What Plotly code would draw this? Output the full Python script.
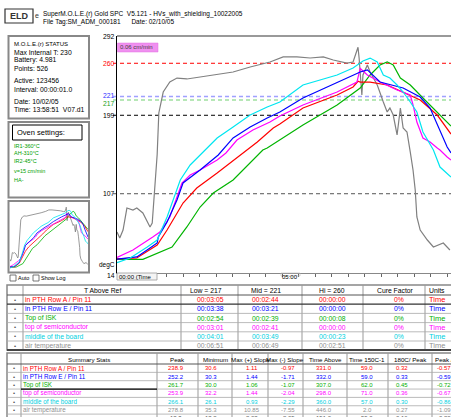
import plotly.graph_objects as go

W, H = 451, 417
FONT = "Liberation Sans, Arial, sans-serif"

# ---------------- data ----------------
series_names = ["in PTH Row A / Pin 11", "in PTH Row E / Pin 11", "Top of ISK",
                "top of semiconductor", "middle of the board", "air temperature"]
series_colors = ["#ff0000", "#0000ff", "#00b400", "#ff00ff", "#00e6f0", "#808080"]
table_colors = ["#ff0000", "#0000ff", "#00b000", "#ff00ff", "#00d0e0", "#909090"]

# time in seconds, temperature in degC
red_t = [0, 36, 73, 91, 120, 145, 182, 224, 255, 284, 296, 338, 400, 429, 438, 442, 460, 491, 520, 551, 582, 605, 607]
red_T = [30.6, 31.6, 46.8, 64.4, 96.1, 113.7, 131.3, 152.4, 167.7, 184.1, 188.8, 207.5, 222.8, 232.2, 238.9, 238.0, 238.0, 234.5, 226.3, 216.9, 199.3, 179.4, 177.0]

blue_t = [0, 36, 60, 73, 75, 91, 109, 120, 151, 184, 211, 242, 273, 296, 338, 400, 442, 455, 478, 520, 551, 569, 582, 593, 600, 607]
blue_T = [30.3, 32.8, 43.3, 49.2, 56.2, 73.8, 99.6, 119.6, 134.8, 152.4, 172.4, 185.3, 195.8, 202.9, 219.3, 238.0, 249.8, 252.2, 238.0, 231.0, 220.4, 207.5, 187.6, 172.4, 161.8, 154.8]

green_t = [0, 47, 100, 127, 151, 175, 211, 255, 265, 273, 296, 338, 400, 442, 460, 478, 491, 502, 515, 533, 556, 582, 593, 607]
green_T = [30.0, 30.0, 44.5, 68.0, 91.4, 107.8, 123.1, 152.4, 158.3, 160.6, 170.0, 187.6, 211.1, 231.0, 246.3, 258.0, 261.7, 258.0, 242.7, 234.5, 219.3, 202.9, 195.8, 186.4]

magenta_t = [0, 29, 65, 78, 96, 118, 133, 151, 182, 198, 218, 247, 278, 296, 338, 400, 436, 442, 455, 478, 509, 533, 538, 545, 556, 569, 582, 587, 600, 607]
magenta_T = [32.2, 41.0, 56.2, 62.1, 79.7, 119.6, 128.9, 134.8, 146.5, 154.8, 170.0, 181.7, 191.1, 198.2, 211.1, 226.3, 238.0, 253.9, 246.3, 238.0, 228.7, 222.8, 211.1, 191.1, 172.4, 167.7, 160.6, 158.3, 150.1, 146.5]

cyan_t = [0, 24, 55, 73, 91, 115, 133, 151, 182, 211, 242, 273, 296, 338, 400, 429, 447, 460, 473, 484, 496, 509, 520, 533, 545, 556, 569, 575, 587, 600, 607]
cyan_T = [26.1, 31.6, 44.5, 52.7, 79.7, 123.1, 140.7, 152.4, 172.4, 185.3, 199.3, 208.7, 214.6, 234.5, 246.3, 254.5, 262.7, 266.1, 261.5, 246.3, 242.7, 234.5, 226.3, 214.6, 202.9, 179.4, 164.1, 158.3, 138.3, 131.3, 126.6]

air_t = [0, 5, 11, 18, 29, 36, 47, 60, 64, 69, 73, 76, 84, 96, 109, 127, 151, 211, 242, 278,
         302, 327, 351, 375, 393, 418, 429, 435, 438, 440, 444, 445, 447, 455, 460, 473, 484, 491, 496, 502,
         509, 515, 520, 527, 533, 538, 542, 545, 551, 564, 575, 593, 605]
air_T = [62.1, 55.1, 64.4, 90.2, 87.9, 90.2, 84.4, 68.0, 72.6, 119.6, 153.0, 201.7, 226.3, 238.0, 242.7, 241.6, 243.9, 249.8, 255.6, 261.5,
         267.4, 267.4, 266.2, 267.4, 263.8, 260.3, 261.5, 273.2, 278.8, 266.2, 234.5, 222.8, 246.3, 258.0, 249.8, 234.5, 214.6, 202.9, 207.5, 199.3,
         175.9, 207.5, 184.1, 179.4, 155.9, 134.8, 111.4, 79.7, 64.4, 52.7, 44.5, 49.2, 41.0]

series_t = [red_t, blue_t, green_t, magenta_t, cyan_t, air_t]
series_T = [red_T, blue_T, green_T, magenta_T, cyan_T, air_T]

# reference temperature lines
thresholds = [260, 221, 217, 199, 107]
threshold_colors = ["#ff0000", "#a0a0ff", "#a0e0a0", "#000000", "#555555"]
ytick_vals = [292, 260, 221, 217, 199, 107, 14]
ytick_colors = ["#000000", "#ff0000", "#3030ff", "#20a020", "#000000", "#000000", "#000000"]
x_range = [0, 607]
y_range = [14, 292]
time_ticks = list(range(0, 601, 30))

# status panel
status_lines = ["Max Internal T: 230", "Battery: 4.981", "Points: 526", "Active: 123456",
                "Interval: 00:00:01.0", "Date: 10/02/05", "Time: 13:58:51  V07.d1"]
oven_lines = ["IR1-360\u00b0C", "AH-310\u00b0C", "IR2-45\u00b0C", "v=15 cm/min", "HA-"]

# table 1
t1_header = ["T Above Ref", "Low = 217", "Mid = 221", "Hi = 260", "Cure Factor", "Units"]
t1_low = ["00:03:05", "00:03:38", "00:02:54", "00:03:01", "00:04:01", "00:06:51"]
t1_mid = ["00:02:44", "00:03:21", "00:02:39", "00:02:41", "00:03:49", "00:06:49"]
t1_hi = ["00:00:00", "00:00:00", "00:00:08", "00:00:00", "00:00:23", "00:02:51"]
t1_cure = ["0%", "0%", "0%", "0%", "0%", "0%"]
t1_units = ["Time", "Time", "Time", "Time", "Time", "Time"]

# table 2
t2_header = ["Summary Stats", "Peak", "Minimum", "Max (+) Slope", "Max (-) Slope",
             "Time Above", "Time 150C-1", "180C/ Peak", "Peak / 18"]
t2_peak = ["238.9", "252.2", "261.7", "253.9", "266.1", "278.8", "18.3"]
t2_min = ["30.6", "30.3", "30.0", "32.2", "26.1", "35.3", "18.2"]
t2_pslope = ["1.11", "1.44", "1.06", "1.44", "0.93", "10.85", "2.08"]
t2_nslope = ["-0.97", "-1.71", "-1.07", "-2.04", "-2.29", "-7.55", "-2.05"]
t2_tabove = ["331.0", "332.0", "307.0", "298.0", "360.0", "446.0", "151.0"]
t2_t150 = ["59.0", "59.0", "62.0", "71.0", "57.0", "2.0", "59.0"]
t2_180peak = ["0.32", "0.33", "0.45", "0.36", "0.30", "0.27", "0.16"]
t2_peak180 = ["-0.57", "-0.59", "-0.72", "-0.67", "-0.86", "-1.09", "-0.20"]

# ---------------- helpers ----------------
def X(px):
    return px / W

def Y(py):
    return 1 - py / H

ann = []
shp = []

def text(x, y, s, color="black", size=7, xa="left", bold=False):
    if bold:
        s = "<b>" + s + "</b>"
    ann.append(dict(x=X(x), y=Y(y), xref="paper", yref="paper", text=s, showarrow=False,
                    xanchor=xa, yanchor="middle", borderpad=0,
                    font=dict(size=size, color=color, family=FONT)))

def rect(x0, y0, x1, y1, color="#888", width=1, fill=None):
    d = dict(type="rect", xref="paper", yref="paper", x0=X(x0), x1=X(x1), y0=Y(y0), y1=Y(y1),
             line=dict(color=color, width=width), layer="above")
    if fill:
        d["fillcolor"] = fill
    shp.append(d)

def line(x0, y0, x1, y1, color="#888", width=1, dash=None):
    ln = dict(color=color, width=width)
    if dash:
        ln["dash"] = dash
    shp.append(dict(type="line", xref="paper", yref="paper", x0=X(x0), x1=X(x1),
                    y0=Y(y0), y1=Y(y1), line=ln, layer="above"))

fig = go.Figure()

# ---------------- main chart ----------------
order = [5, 2, 0, 3, 1, 4]
for i in order:
    fig.add_trace(go.Scatter(x=series_t[i], y=series_T[i], mode="lines", name=series_names[i],
                             line=dict(color=series_colors[i], width=1.2), xaxis="x", yaxis="y",
                             hoverinfo="skip"))
    fig.add_trace(go.Scatter(x=series_t[i], y=series_T[i], mode="lines", name=series_names[i],
                             line=dict(color=series_colors[i], width=0.8), xaxis="x2", yaxis="y2",
                             hoverinfo="skip"))

for v, c in zip(thresholds, threshold_colors):
    w = 1.6 if v in (221, 217) else 1
    shp.append(dict(type="line", xref="paper", yref="y", x0=X(113), x1=1, y0=v, y1=v,
                    line=dict(color=c, width=w, dash="4px,3px"), layer="below"))

label_shift = {221: 1.5, 217: -3.5, 14: -2}
for v, c in zip(ytick_vals, ytick_colors):
    ann.append(dict(x=X(116), y=v, xref="paper", yref="y", text=str(v), showarrow=False,
                    xanchor="right", yanchor="middle", yshift=label_shift.get(v, 0), borderpad=0,
                    font=dict(size=6.8, color=c, family=FONT)))
text(116, 265, "degC", size=6.5, xa="right")

# top border of main chart
line(117, 36, 452, 36, color="#999", width=2)

# rate label
rect(117.5, 43, 158, 52, color="#e070e0", width=0.5, fill="#f090f0")
text(119, 47.5, "0.06 cm/min", color="#404040", size=6)

# time axis labels
rect(117, 273, 157, 280, color="#999", width=0.8, fill="#f4f4f4")
text(118, 276.5, "00:00 (Time", size=6)
rect(281, 273, 300, 276, color="#bbb", width=0.6)
text(281, 276.5, "05:00", size=6)

# ---------------- header ----------------
rect(5, 9, 33, 23, color="#333", width=1.2)
text(19, 16, "ELD", size=9, xa="center", bold=True, color="#333")
text(34, 15, "e", size=7, color="#333")
text(42, 13.5, "SuperM.O.L.E.(r) Gold SPC  V5.121 - HVs_with_shielding_10022005", size=6.5)
text(42, 21.5, "File Tag:SM_ADM_000181      Date: 02/10/05", size=6.5)

# ---------------- status panel ----------------
rect(8.5, 36, 89, 118.5, color="#888", width=2)
text(13, 43.5, "M.O.L.E.(r) STATUS", size=6)
status_y = [52, 60.5, 68.5, 80, 89.5, 101, 109.5]
for s, yy in zip(status_lines, status_y):
    text(13, yy, s, size=6.8)

rect(8.5, 122, 89, 197.5, color="#888", width=2)
rect(12.5, 125, 82, 140, color="#000", width=1)
text(16, 132.5, "Oven settings:", size=7.5)
oven_y = [146, 153.5, 161, 170.5, 180]
for s, yy in zip(oven_lines, oven_y):
    text(13, yy, s, size=5.5, color="#00a000")

# mini chart box
rect(8.5, 201, 89, 272.5, color="#888", width=2)
rect(10, 275, 16, 281, color="#555", width=0.8)
text(17, 278, "Auto", size=5.5)
rect(33, 275, 39, 281, color="#555", width=0.8)
text(40, 278, "Show Log", size=5.5)

# ---------------- table 1 ----------------
t1_cols = [7, 23, 181, 238, 302, 363, 425]
t1_top, t1_head_bot = 285, 295
t1_rh = 9.2
rect(7, t1_top, 470, 350, color="#888", width=1.5)
for cx in t1_cols[1:]:
    line(cx, t1_top, cx, 350, color="#999", width=1)
line(7, t1_head_bot, 470, t1_head_bot, color="#555", width=1)
for r in range(1, 6):
    yy = t1_head_bot + r * t1_rh
    line(7, yy, 470, yy, color="#333" if r == 1 else "#aaa", width=1.2 if r == 1 else 0.8)
line(7, 350, 470, 350, color="#444", width=2)

t1_hx = [(102, "center"), (206, "center"), (266, "center"), (332, "center"), (395, "center"), (428, "left")]
for s, (hx, al) in zip(t1_header, t1_hx):
    text(hx, 290, s, size=6.8, xa=al)
t1_cols_vals = [t1_low, t1_mid, t1_hi, t1_cure]
t1_val_x = [210, 265, 332, 399]
for r in range(6):
    yy = t1_head_bot + (r + 0.5) * t1_rh
    c = table_colors[r]
    text(15, yy, "\u2022", size=6, xa="center", color="#555")
    text(24, yy, series_names[r], size=6.8, color=c)
    for vals, vx in zip(t1_cols_vals, t1_val_x):
        text(vx, yy, vals[r], size=6.8, xa="center", color=c)
    text(428, yy, t1_units[r], size=7.5, color=c)

# ---------------- table 2 ----------------
t2_cols = [7, 21, 157, 198, 232, 268, 303, 347, 388, 432]
t2_top, t2_head_bot = 353, 364
t2_rh = 8.35
rect(7, t2_top, 470, 440, color="#888", width=1.5)
for cx in t2_cols[1:]:
    line(cx, t2_top, cx, 440, color="#999", width=1)
line(7, t2_head_bot, 470, t2_head_bot, color="#555", width=1)
for r in range(1, 7):
    yy = t2_head_bot + r * t2_rh
    line(7, yy, 470, yy, color="#aaa", width=0.8)
line(21, t2_head_bot + 3 * t2_rh, 157, t2_head_bot + 3 * t2_rh, color="#000", width=1.2)

t2_hx = [(89, "center"), (177, "center"), (215, "center"), (250, "center"), (285, "center"),
         (325, "center"), (367, "center"), (410, "center"), (434, "left")]
for s, (hx, al) in zip(t2_header, t2_hx):
    text(hx, 359.5, s, size=6.2, xa=al)
t2_vals = [t2_peak, t2_min, t2_pslope, t2_nslope, t2_tabove, t2_t150, t2_180peak]
t2_val_x = [176, 211, 252, 288, 324, 367, 402]
for r in range(7):
    yy = t2_head_bot + (r + 0.5) * t2_rh
    c = table_colors[r] if r < 6 else "#555"
    text(14, yy, "\u2022", size=6, xa="center", color="#555")
    if r < 6:
        text(22, yy, series_names[r], size=6.3, color=c)
    for vals, vx in zip(t2_vals, t2_val_x):
        text(vx, yy, vals[r], size=6, xa="center", color=c)
    text(436, yy, t2_peak180[r], size=6, color=c)

# ---------------- layout ----------------
fig.update_layout(
    width=W, height=H, autosize=False,
    margin=dict(l=0, r=0, t=0, b=0, pad=0),
    paper_bgcolor="white", plot_bgcolor="white",
    showlegend=False,
    font=dict(family=FONT, size=7, color="black"),
    xaxis=dict(domain=[X(117), 1], range=x_range, showgrid=False, zeroline=False,
               showline=True, linecolor="#888", linewidth=1, ticks="outside", ticklen=3,
               tickcolor="#666", tickvals=time_ticks, showticklabels=False, fixedrange=True),
    yaxis=dict(domain=[Y(273), Y(36)], range=y_range, showgrid=False, zeroline=False,
               showline=True, linecolor="black", linewidth=1, showticklabels=False,
               ticks="", fixedrange=True),
    xaxis2=dict(domain=[X(10), X(88)], range=x_range, visible=False, anchor="y2", fixedrange=True),
    yaxis2=dict(domain=[Y(271), Y(204)], range=y_range, visible=False, anchor="x2", fixedrange=True),
    annotations=ann,
    shapes=shp,
)

fig.write_html("out.html", config={"displayModeBar": False},
               post_script="document.body.style.margin='0';document.body.style.overflow='hidden';")
